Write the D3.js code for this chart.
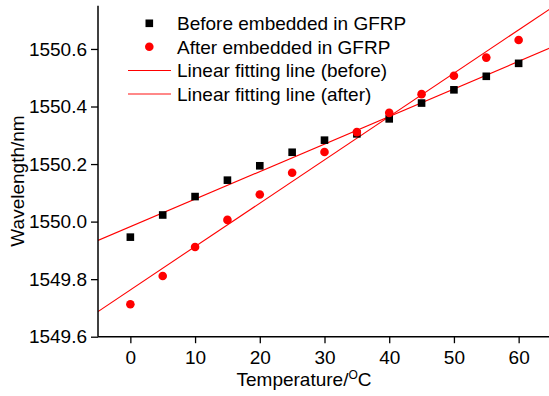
<!DOCTYPE html>
<html>
<head>
<meta charset="utf-8">
<script src="https://cdn.jsdelivr.net/npm/d3@7"></script>
<style>
  body { margin: 0; background: #fff; }
  svg { display: block; font-family: "Liberation Sans", Arial, sans-serif; }
</style>
</head>
<body>
<div id="chart"></div>
<script>
const temperatures = [0, 5, 10, 15, 20, 25, 30, 35, 40, 45, 50, 55, 60];
const beforeGFRP = [1549.946, 1550.023, 1550.087, 1550.144, 1550.194, 1550.241, 1550.283,
                    1550.305, 1550.357, 1550.412, 1550.458, 1550.505, 1550.550];
const afterGFRP = [1549.713, 1549.811, 1549.912, 1550.006, 1550.094, 1550.170, 1550.242,
                   1550.311, 1550.378, 1550.443, 1550.507, 1550.570, 1550.631];
const xTicks = [0, 10, 20, 30, 40, 50, 60];
const xMinorTicks = [-5, 5, 15, 25, 35, 45, 55, 65];
const yTicks = [1549.6, 1549.8, 1550.0, 1550.2, 1550.4, 1550.6];
const yMinorTicks = [1549.7, 1549.9, 1550.1, 1550.3, 1550.5, 1550.7];
const legendLabels = ["Before embedded in GFRP", "After embedded in GFRP",
                      "Linear fitting line (before)", "Linear fitting line (after)"];

const width = 549, height = 396;
const fontSize = 19;
const sq = 7.6, rad = 4.3;

const svg = d3.select("#chart").append("svg")
  .attr("width", width)
  .attr("height", height);

svg.append("rect").attr("width", width).attr("height", height).attr("fill", "#fff");

const x = d3.scaleLinear().domain([-5, 65]).range([98, 551]);
const y = d3.scaleLinear().domain([1549.6, 1550.75]).range([336.7, 5.8]);

// least squares fit for each series
function fit(xs, ys) {
  const mx = d3.mean(xs), my = d3.mean(ys);
  const sxy = d3.sum(xs, (d, i) => (d - mx) * (ys[i] - my));
  const sxx = d3.sum(xs, d => (d - mx) * (d - mx));
  const slope = sxy / sxx;
  return t => my + slope * (t - mx);
}
const fitBefore = fit(temperatures, beforeGFRP);
const fitAfter = fit(temperatures, afterGFRP);

// fitting lines, clipped to plot area
svg.append("clipPath").attr("id", "plot-clip")
  .append("rect").attr("x", 98).attr("y", 0).attr("width", width - 98).attr("height", 336.7);

const line = d3.line().x(d => x(d[0])).y(d => y(d[1]));
[fitBefore, fitAfter].forEach(f => {
  svg.append("path")
    .attr("clip-path", "url(#plot-clip)")
    .attr("d", line(x.domain().map(t => [t, f(t)])))
    .attr("fill", "none")
    .attr("stroke", "#ff0000")
    .attr("stroke-width", 1.1);
});

// x axis
const xAxisG = svg.append("g").attr("transform", `translate(0,${y.range()[0]})`);
xAxisG.call(d3.axisBottom(x).tickValues(xMinorTicks).tickSize(3.5).tickFormat(""));
xAxisG.call(d3.axisBottom(x).tickValues(xTicks).tickSize(6.5).tickPadding(7).tickFormat(d3.format("d")));
xAxisG.selectAll(".domain").attr("d", `M${x.range()[0]},0H${x.range()[1]}`);

// y axis
const yAxisG = svg.append("g").attr("transform", `translate(${x.range()[0]},0)`);
yAxisG.call(d3.axisLeft(y).tickValues(yMinorTicks).tickSize(3.5).tickFormat(""));
yAxisG.call(d3.axisLeft(y).tickValues(yTicks).tickSize(7).tickPadding(4).tickFormat(d3.format(".1f")));
yAxisG.selectAll(".domain").attr("d", `M0,${y.range()[1]}V${y.range()[0]}`);

svg.selectAll(".domain").attr("stroke-width", 1.5);
svg.selectAll(".tick line").attr("stroke-width", 1.3);
svg.selectAll(".tick text").attr("font-size", fontSize).attr("fill", "#000")
  .attr("font-family", "'Liberation Sans', Arial, sans-serif");

// data points
svg.append("g").selectAll("rect")
  .data(temperatures)
  .join("rect")
  .attr("x", d => x(d) - sq / 2)
  .attr("y", (d, i) => y(beforeGFRP[i]) - sq / 2)
  .attr("width", sq)
  .attr("height", sq)
  .attr("fill", "#000");

svg.append("g").selectAll("circle")
  .data(temperatures)
  .join("circle")
  .attr("cx", d => x(d))
  .attr("cy", (d, i) => y(afterGFRP[i]))
  .attr("r", rad)
  .attr("fill", "#ff0000");

// axis titles
const xTitle = svg.append("text")
  .attr("x", 304)
  .attr("y", 386)
  .attr("text-anchor", "middle")
  .attr("font-size", fontSize)
  .attr("fill", "#000");
xTitle.append("tspan").text("Temperature/");
xTitle.append("tspan").attr("dy", -7).attr("font-size", 12).text("O");
xTitle.append("tspan").attr("dy", 7).text("C");

svg.append("text")
  .attr("transform", "translate(24,181) rotate(-90)")
  .attr("text-anchor", "middle")
  .attr("font-size", fontSize)
  .attr("fill", "#000")
  .text("Wavelength/nm");

// legend
const legendRows = [23.3, 46.7, 70.5, 94];
const legend = svg.append("g");
legend.append("rect").attr("x", 149.3 - sq / 2).attr("y", legendRows[0] - sq / 2)
  .attr("width", sq).attr("height", sq).attr("fill", "#000");
legend.append("circle").attr("cx", 149.3).attr("cy", legendRows[1]).attr("r", rad).attr("fill", "#ff0000");
legend.append("line").attr("x1", 128).attr("x2", 171).attr("y1", legendRows[2]).attr("y2", legendRows[2])
  .attr("stroke", "#ff0000").attr("stroke-width", 1.1);
legend.append("line").attr("x1", 128).attr("x2", 171).attr("y1", legendRows[3]).attr("y2", legendRows[3])
  .attr("stroke", "#ff6060").attr("stroke-width", 1.5);
legend.selectAll("text")
  .data(legendLabels)
  .join("text")
  .attr("x", 177)
  .attr("y", (d, i) => legendRows[i] + 6.8)
  .attr("font-size", fontSize)
  .attr("fill", "#000")
  .text(d => d);
</script>
</body>
</html>
